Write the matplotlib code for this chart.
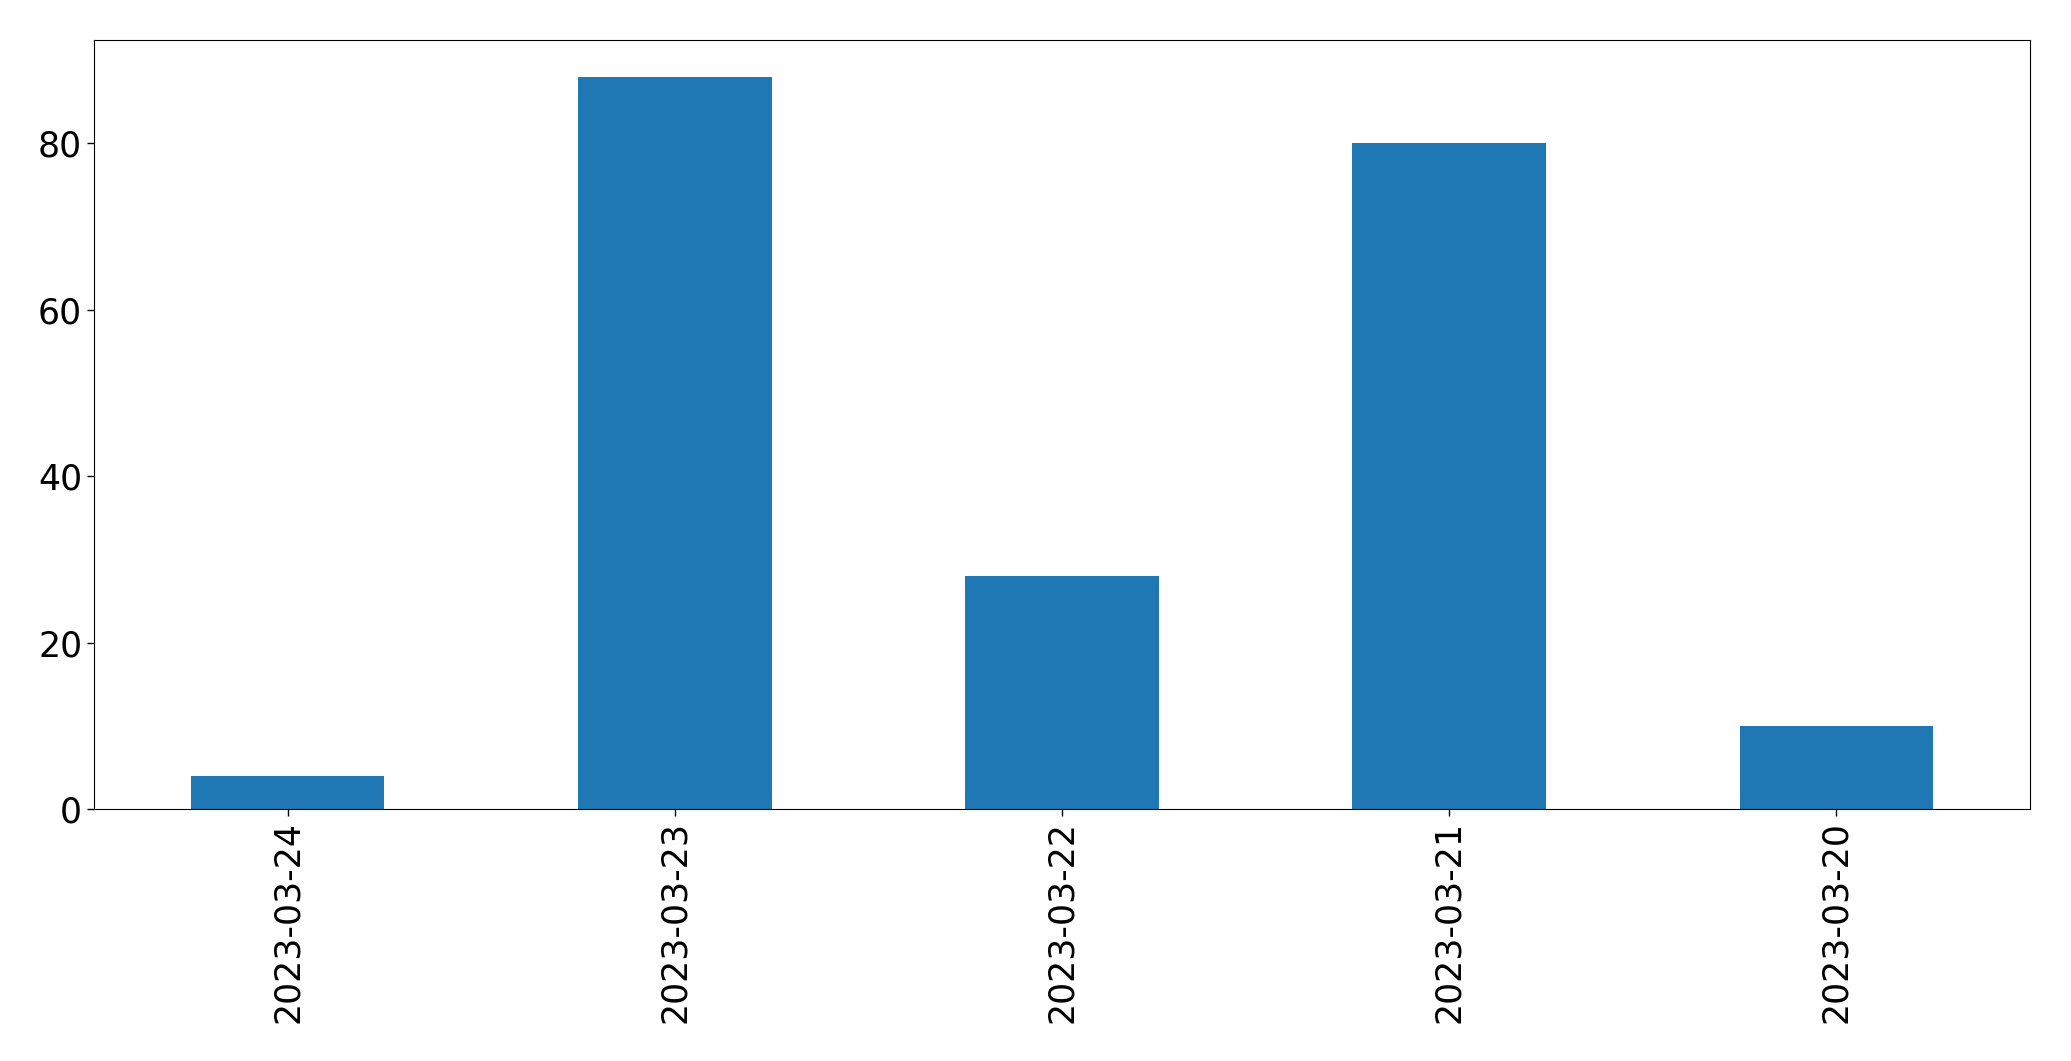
import pandas as pd
import matplotlib
matplotlib.use("Agg")
import matplotlib.pyplot as plt

# Values
dates = ["2023-03-24", "2023-03-23", "2023-03-22", "2023-03-21", "2023-03-20"]
counts = [4, 88, 28, 80, 10]

s = pd.Series(counts, index=dates)

fig = plt.figure(figsize=(20.71, 10.61), dpi=100)
ax = fig.add_axes([94 / 2071, 1 - 809 / 1061, (2030 - 94) / 2071, (809 - 40) / 1061])
s.plot(kind="bar", ax=ax, color="#1f77b4")
ax.tick_params(axis="both", labelsize=25, length=5, width=1)
ax.set_xlabel("")

fig.savefig("out.png", dpi=100)
